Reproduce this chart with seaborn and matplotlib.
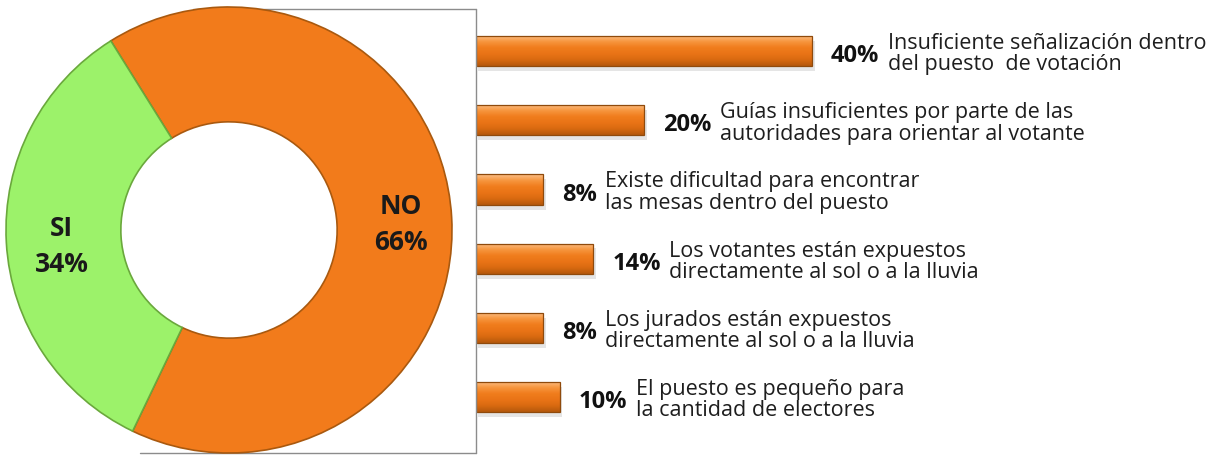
import numpy as np
import matplotlib
matplotlib.use("Agg")
import matplotlib.pyplot as plt
from matplotlib.colors import LinearSegmentedColormap
from matplotlib.lines import Line2D
import seaborn as sns

# ---------------- data ----------------
donut_labels = ["NO", "SI"]
donut_values = [66, 34]
categories = [
    "Insuficiente señalización dentro\ndel puesto  de votación",
    "Guías insuficientes por parte de las\nautoridades para orientar al votante",
    "Existe dificultad para encontrar\nlas mesas dentro del puesto",
    "Los votantes están expuestos\ndirectamente al sol o a la lluvia",
    "Los jurados están expuestos\ndirectamente al sol o a la lluvia",
    "El puesto es pequeño para\nla cantidad de electores",
]
values = [40, 20, 8, 14, 8, 10]

# ---------------- style ----------------
sns.set_theme(style="white")
plt.rcParams['font.family'] = ['Open Sans', 'DejaVu Sans']

W, H = 1225, 456
fig = plt.figure(figsize=(W / 100, H / 100), dpi=100)
fig.patch.set_facecolor('white')


def fx(px):
    return px / W


def fy(py):
    return 1 - py / H


# frame lines around the donut area
box_kw = dict(color='#8c8c8c', lw=1.0, transform=fig.transFigure)
fig.add_artist(Line2D([fx(193), fx(475.5)], [fy(10), fy(10)], zorder=0, **box_kw))
fig.add_artist(Line2D([fx(140), fx(475.5)], [fy(454), fy(454)], zorder=0, **box_kw))
fig.add_artist(Line2D([fx(475.5), fx(475.5)], [fy(10), fy(454)], zorder=5, **box_kw))

# ---------------- donut ----------------
cx, cy, r = 229, 231, 223
ax_pie = fig.add_axes([fx(cx - r), fy(cy + r), 2 * r / W, 2 * r / H])
donut_colors = ['#f27b1b', '#9cf26a']
wedges, _ = ax_pie.pie(donut_values, colors=donut_colors, startangle=122,
                       counterclock=False, radius=1,
                       wedgeprops=dict(width=0.515, linewidth=1.2))
wedges[0].set_edgecolor('#a9590f')
wedges[1].set_edgecolor('#6aa83c')
ax_pie.set_xlim(-1, 1)
ax_pie.set_ylim(-1, 1)
ax_pie.set_aspect('auto')
ax_pie.axis('off')

ax_pie.text(0.77, 0.03, f"{donut_labels[0]}\n{donut_values[0]}%", ha='center', va='center',
            fontsize=19, fontweight='bold', color='#1a1a1a', linespacing=1.45)
ax_pie.text(-0.75, -0.07, f"{donut_labels[1]}\n{donut_values[1]}%", ha='center', va='center',
            fontsize=19, fontweight='bold', color='#1a1a1a', linespacing=1.45)

# ---------------- bars ----------------
ax_bar = fig.add_axes([fx(475.5), 1 - 455 / H, 748 / W, 445 / H])
ax_bar.patch.set_visible(False)
sns.barplot(x=values, y=categories, orient='h', ax=ax_bar, color='#f07a1a',
            width=0.44, edgecolor='#8f4a0c', linewidth=0.9)

cmap = LinearSegmentedColormap.from_list(
    'bar', ['#fcc088', '#f7963f', '#f07d1d', '#ea7416', '#d96a10', '#b5580c'])
grad = np.linspace(0, 1, 64).reshape(-1, 1)
for p in list(ax_bar.patches):
    x0, y0 = p.get_x(), p.get_y()
    w, h = p.get_width(), p.get_height()
    # soft shadow
    shadow = plt.Rectangle((x0 + 0.35, y0 + 0.07), w, h, facecolor='#000000',
                           alpha=0.10, edgecolor='none', zorder=1)
    ax_bar.add_patch(shadow)
    im = ax_bar.imshow(grad, extent=[x0, x0 + w, y0 + h, y0], origin='upper',
                       aspect='auto', cmap=cmap, zorder=2, interpolation='bicubic')
    im.set_clip_path(p)
    p.set_facecolor('none')
    p.set_zorder(3)

ax_bar.set_xlim(0, 89)
ax_bar.set_ylim(5.82, -0.607)
ax_bar.set_xticks([])
ax_bar.set_yticks([])
ax_bar.set_xlabel('')
ax_bar.set_ylabel('')
for s in ax_bar.spines.values():
    s.set_visible(False)

for i, v in enumerate(values):
    pct = ax_bar.annotate(f"{v}%", xy=(v, i), xytext=(14, -3), textcoords='offset points',
                          ha='left', va='center', fontsize=17, fontweight='bold',
                          color='#111111')
    ax_bar.annotate(categories[i], xy=(1, 0.5), xycoords=pct, xytext=(6, 1.5),
                    textcoords='offset points', ha='left', va='center', fontsize=15.5,
                    linespacing=1.02, color='#1e1e1e')

fig.savefig('out.png', dpi=100, facecolor='white')
